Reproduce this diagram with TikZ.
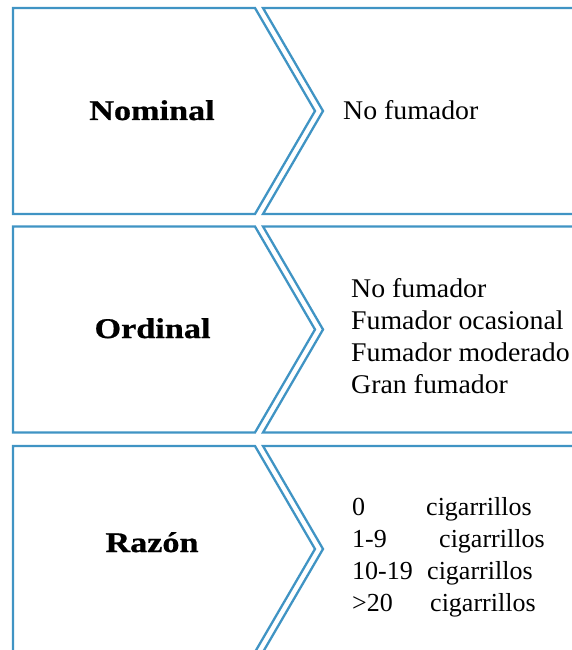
\documentclass[tikz,border=0pt]{standalone}
\usepackage{fontspec}
\setmainfont{Liberation Serif}
\newfontfamily\labelfont[FakeStretch=1.2,FakeBold=0.8]{Liberation Serif Bold}
\newfontfamily\itemfont[FakeStretch=1.03]{Liberation Serif}
\definecolor{edgeblue}{RGB}{64,148,196}
\tikzset{
  panel/.style={draw=edgeblue, line width=2.3pt, fill=white, line join=miter},
  headtext/.style={inner sep=0pt, anchor=base, font=\labelfont\fontsize{28.5}{30}\selectfont},
  itemtext/.style={inner sep=0pt, anchor=base west, font=\itemfont\fontsize{27}{29}\selectfont},
  ratiotext/.style={inner sep=0pt, anchor=base west, font=\fontsize{26}{28}\selectfont}
}
\begin{document}
\begin{tikzpicture}[x=1pt, y=-1pt]
  \useasboundingbox (0,0) rectangle (572,650);
  \clip (0,0) rectangle (572,650);
  % three rows: arrow-shaped heading panel followed by a notched content panel
  \foreach \t in {8,226.5,446} {
    \pgfmathsetmacro{\b}{\t+206}
    \pgfmathsetmacro{\m}{\t+103}
    \draw[panel] (13,\t) -- (255,\t) -- (315,\m) -- (255,\b) -- (13,\b) -- cycle;
    \draw[panel] (263,\t) -- (590,\t) -- (590,\b) -- (263,\b) -- (323,\m) -- cycle;
  }
  % headings
  \node[headtext] (nominal) at (152,120) {Nominal};
  \node[headtext] (ordinal) at (152.5,338) {Ordinal};
  \node[headtext] (razon) at (152,552) {Razón};
  % nominal scale
  \node[itemtext] (nom1) at (343,120) {No fumador};
  % ordinal scale
  \node[itemtext] (ord1) at (351,297) {No fumador};
  \node[itemtext] (ord2) at (351,329) {Fumador ocasional};
  \node[itemtext] (ord3) at (351,361) {Fumador moderado};
  \node[itemtext] (ord4) at (351,393) {Gran fumador};
  % ratio scale
  \node[ratiotext] (raz1n) at (352,515) {0};
  \node[ratiotext] (raz1c) at (426,515) {cigarrillos};
  \node[ratiotext] (raz2n) at (352,547) {1-9};
  \node[ratiotext] (raz2c) at (439,547) {cigarrillos};
  \node[ratiotext] (raz3n) at (352,579) {10-19};
  \node[ratiotext] (raz3c) at (427,579) {cigarrillos};
  \node[ratiotext] (raz4n) at (352,611) {>20};
  \node[ratiotext] (raz4c) at (430,611) {cigarrillos};
\end{tikzpicture}
\end{document}
